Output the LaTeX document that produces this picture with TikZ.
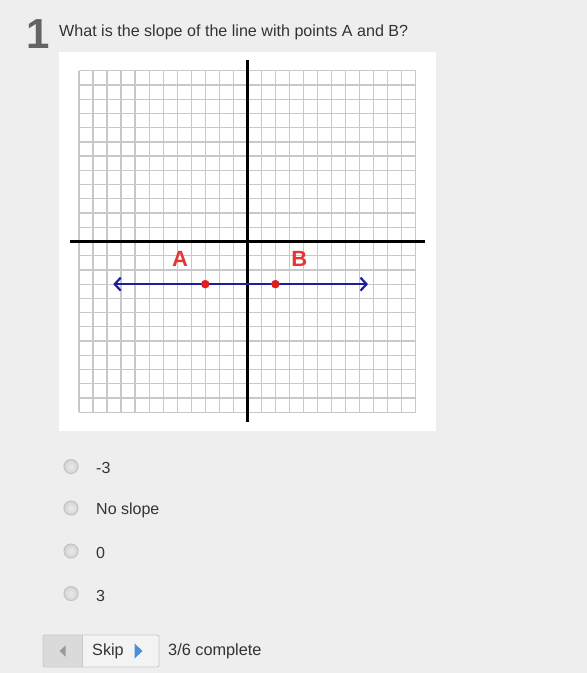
\documentclass[tikz,border=0pt]{standalone}
\usepackage{fontspec}
\setmainfont{Liberation Sans}
\usetikzlibrary{arrows.meta}
\definecolor{pagebg}{HTML}{EEEEEE}
\definecolor{gridc}{HTML}{C8C8C8}
\definecolor{txt}{HTML}{333333}
\definecolor{numc}{HTML}{646464}
\definecolor{lineblue}{HTML}{1E1EA0}
\definecolor{ptred}{HTML}{E01E1E}
\definecolor{lblred}{HTML}{E53535}
\definecolor{radiob}{HTML}{C2C2C2}
\definecolor{radiof}{HTML}{D4D4D4}
\definecolor{radioi}{HTML}{EAEAEA}
\definecolor{btnborder}{HTML}{C9C9C9}
\definecolor{btnleft}{HTML}{DADADA}
\definecolor{btnright}{HTML}{F3F3F3}
\definecolor{skipblue}{HTML}{4A8FDB}
\tikzset{
  gridline/.style={draw=gridc, line width=1.3pt},
  axisline/.style={draw=black, line width=3.6pt},
  numline/.style={draw=lineblue, line width=2pt, {Straight Barb[length=6pt,width=13pt,line width=2.2pt]}-{Straight Barb[length=6pt,width=13pt,line width=2.2pt]}},
  pt/.style={circle, fill=ptred, inner sep=0pt, minimum size=8.5pt},
  ptlabel/.style={text=lblred, font=\fontsize{22}{24}\selectfont\bfseries, inner sep=0pt},
  radio/.style={circle, draw=radiob, line width=1pt, inner color=radioi, outer color=radiof, minimum size=14pt, inner sep=0pt},
  opt/.style={anchor=west, text=txt, font=\fontsize{16}{19}\selectfont, inner sep=0pt},
}
\begin{document}
\begin{tikzpicture}[x=1pt,y=-1pt]
\useasboundingbox (0,0) rectangle (587,673);
\fill[pagebg] (0,0) rectangle (587,673);
% question
\node[anchor=west, text=numc, font=\fontsize{42}{45}\selectfont\bfseries, inner sep=0pt] (num) at (26,34) {1};
\node[anchor=west, text=txt, font=\fontsize{16.1}{18}\selectfont, inner sep=0pt] (q) at (59,32) {What is the slope of the line with points A and B?};
% panel
\fill[white] (59,52) rectangle (436,431);
\begin{scope}[shift={(79,70.7)}, x=14.03pt, y=-14.23pt]
  \foreach \i in {0,...,24} {
    \draw[gridline] (\i,0) -- (\i,24);
    \draw[gridline] (0,\i) -- (24,\i);
  }
  \draw[axisline] (-0.64,12) -- (24.66,12);
  \draw[axisline] (12,-0.75) -- (12,24.67);
  \coordinate (lt) at (2.44,15);
  \coordinate (rt) at (20.6,15);
  \draw[numline] (lt) -- (rt);
  \node[pt] (A) at (9,15) {};
  \node[pt] (B) at (14,15) {};
  \node[ptlabel] (lA) at (7.2,13.2) {A};
  \node[ptlabel] (lB) at (15.7,13.2) {B};
\end{scope}
% options
\node[radio] (r1) at (71,466.5) {};
\node[radio] (r2) at (71,508) {};
\node[radio] (r3) at (71,551) {};
\node[radio] (r4) at (71,593.5) {};
\node[opt] (o1) at (96,468) {-3};
\node[opt] (o2) at (96,510.5) {No slope};
\node[opt] (o3) at (96,553) {0};
\node[opt] (o4) at (96,595.5) {3};
% bottom bar
\fill[btnright, rounded corners=2pt] (43,635) rectangle (159,667);
\fill[btnleft, rounded corners=2pt] (43,635) rectangle (82,667);
\fill[btnleft] (75,635) rectangle (82,667);
\draw[btnborder, line width=0.9pt, rounded corners=2pt] (43,635) rectangle (159,667);
\draw[btnborder, line width=0.9pt] (82,635) -- (82,667);
\fill[gray!80] (59.5,651) -- (65.5,645.5) -- (65.5,656.5) -- cycle;
\node[anchor=west, text=txt, font=\fontsize{16.2}{19}\selectfont, inner sep=0pt] (skip) at (92,651.5) {Skip};
\fill[skipblue] (142.5,651) -- (134.5,643.5) -- (134.5,658.5) -- cycle;
\node[anchor=west, text=txt, font=\fontsize{16.3}{19}\selectfont, inner sep=0pt] (prog) at (168,651.5) {3/6 complete};
\end{tikzpicture}
\end{document}
